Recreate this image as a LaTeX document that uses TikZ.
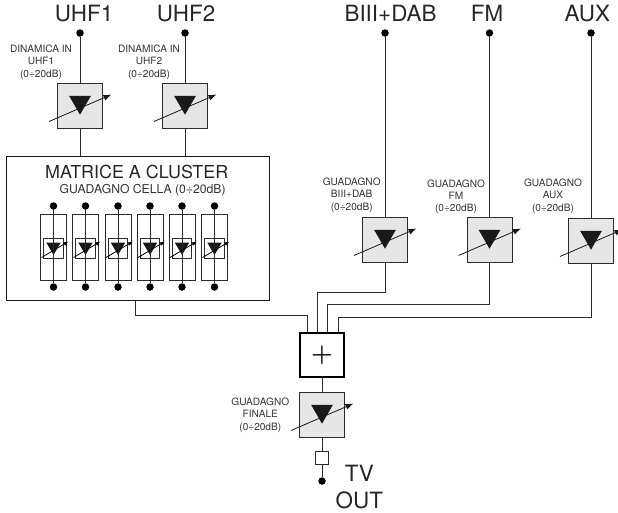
\documentclass[tikz,border=0pt]{standalone}
\usepackage{xcolor}
\usepackage{fontspec}
\usepackage{tikz}
\usetikzlibrary{shapes.geometric,arrows.meta}
\setmainfont{TeX Gyre Heros}
\definecolor{wirecol}{HTML}{2B2B2B}
\definecolor{ampfill}{HTML}{E6E6E6}
\definecolor{textcol}{HTML}{333333}
\tikzset{
  wire/.style={draw=wirecol,line width=0.9pt},
  jack/.style={circle,fill=black,inner sep=0pt,minimum size=7.5pt},
  ampbox/.style={draw=wirecol,fill=ampfill,line width=1pt,inner sep=0pt,minimum size=45pt},
  amptri/.style={regular polygon,regular polygon sides=3,shape border rotate=180,fill=black!90,inner sep=0pt,minimum size=25pt},
  tune/.style={draw=black!90,line width=0.8pt,-{Latex[length=8pt,width=6pt]}},
  cellbox/.style={draw=wirecol,line width=0.9pt,inner sep=0pt,minimum width=26pt,minimum height=66pt},
  cellamp/.style={draw=wirecol,line width=0.9pt,inner sep=0pt,minimum size=19.5pt},
  celltri/.style={regular polygon,regular polygon sides=3,shape border rotate=180,fill=black!90,inner sep=0pt,minimum size=16.5pt},
  celltune/.style={draw=black,line width=0.8pt,-{Latex[length=5pt,width=4pt]}},
  biglabel/.style={text=black!85,inner sep=0pt,align=center,font=\fontsize{22.4}{26.7}\selectfont},
  smalllabel/.style={text=textcol,inner sep=0pt,align=center,font=\fontsize{10.1}{12.3}\selectfont},
}
\begin{document}
\begin{tikzpicture}[x=1pt,y=1pt,yscale=-1]
\useasboundingbox (0,0) rectangle (618,512);

%Input jacks
\node [jack] (jacka) at (80,33) {};
\node [jack] (jackb) at (185,33) {};
\node [jack] (jackc) at (385,33) {};
\node [jack] (jackd) at (489.5,33) {};
\node [jack] (jacke) at (591,33) {};

%Amplifiers
\node [ampbox] (ampa) at (80,105.5) {};
\node [ampbox] (ampb) at (185,105.5) {};
\node [ampbox] (ampc) at (385,239.5) {};
\node [ampbox] (ampd) at (489.5,239.5) {};
\node [ampbox] (ampe) at (591,240.5) {};
\node [ampbox] (ampf) at (322,414.5) {};
\node [amptri] (tria) at (80,102.2) {};
\node [amptri] (trib) at (185,102.2) {};
\node [amptri] (tric) at (385,236.2) {};
\node [amptri] (trid) at (489.5,236.2) {};
\node [amptri] (trie) at (591,237.2) {};
\node [amptri] (trif) at (322,411.2) {};
\draw [tune] ([shift={(-31,16)}]ampa.center) -- ([shift={(31.5,-11)}]ampa.center);
\draw [tune] ([shift={(-31,16)}]ampb.center) -- ([shift={(31.5,-11)}]ampb.center);
\draw [tune] ([shift={(-31,16)}]ampc.center) -- ([shift={(31.5,-11)}]ampc.center);
\draw [tune] ([shift={(-31,16)}]ampd.center) -- ([shift={(31.5,-11)}]ampd.center);
\draw [tune] ([shift={(-31,16)}]ampe.center) -- ([shift={(31.5,-11)}]ampe.center);
\draw [tune] ([shift={(-31,16)}]ampf.center) -- ([shift={(31.5,-11)}]ampf.center);

%Cluster matrix
\node [draw=black!90,line width=1pt,inner sep=0pt,minimum width=263pt,minimum height=144pt] (cluster) at (137.5,228) {};

%Cells
\node [cellbox] (cella) at (53.5,247) {};
\node [cellbox] (cellb) at (85.5,247) {};
\node [cellbox] (cellc) at (118,247) {};
\node [cellbox] (celld) at (150,247) {};
\node [cellbox] (celle) at (182,247) {};
\node [cellbox] (cellf) at (214.5,247) {};
\node [cellamp] (inna) at (53.5,248.5) {};
\node [cellamp] (innb) at (85.5,248.5) {};
\node [cellamp] (innc) at (118,248.5) {};
\node [cellamp] (innd) at (150,248.5) {};
\node [cellamp] (inne) at (182,248.5) {};
\node [cellamp] (innf) at (214.5,248.5) {};
\node [celltri] (tcella) at (53.5,246.8) {};
\node [celltri] (tcellb) at (85.5,246.8) {};
\node [celltri] (tcellc) at (118,246.8) {};
\node [celltri] (tcelld) at (150,246.8) {};
\node [celltri] (tcelle) at (182,246.8) {};
\node [celltri] (tcellf) at (214.5,246.8) {};
\node [jack] (topa) at (53.5,206) {};
\node [jack] (topb) at (85.5,206) {};
\node [jack] (topc) at (118,206) {};
\node [jack] (topd) at (150,206) {};
\node [jack] (tope) at (182,206) {};
\node [jack] (topf) at (214.5,206) {};
\node [jack] (bota) at (53.5,287) {};
\node [jack] (botb) at (85.5,287) {};
\node [jack] (botc) at (118,287) {};
\node [jack] (botd) at (150,287) {};
\node [jack] (bote) at (182,287) {};
\node [jack] (botf) at (214.5,287) {};
\draw [wire] (topa) -- (bota);
\draw [wire] (topb) -- (botb);
\draw [wire] (topc) -- (botc);
\draw [wire] (topd) -- (botd);
\draw [wire] (tope) -- (bote);
\draw [wire] (topf) -- (botf);
\draw [celltune] ([shift={(-12,9)}]inna.center) -- ([shift={(15,-7)}]inna.center);
\draw [celltune] ([shift={(-12,9)}]innb.center) -- ([shift={(15,-7)}]innb.center);
\draw [celltune] ([shift={(-12,9)}]innc.center) -- ([shift={(15,-7)}]innc.center);
\draw [celltune] ([shift={(-12,9)}]innd.center) -- ([shift={(15,-7)}]innd.center);
\draw [celltune] ([shift={(-12,9)}]inne.center) -- ([shift={(15,-7)}]inne.center);
\draw [celltune] ([shift={(-12,9)}]innf.center) -- ([shift={(15,-7)}]innf.center);

%Adder and output
\node [draw=black,line width=2.8pt,inner sep=0pt,minimum size=44pt,font=\fontsize{32}{32}\selectfont\boldmath] (adder) at (322,355) {$+$};
\node [draw=wirecol,line width=1pt,inner sep=0pt,minimum size=13pt] (outbox) at (322,457.5) {};
\node [jack] (jackout) at (322,481) {};
\coordinate (cluout) at (135,300);
\coordinate (adda) at (307,332);
\coordinate (addb) at (317.5,332);
\coordinate (addc) at (327.5,332);
\coordinate (addd) at (338,332);

%Straight Lines
\draw [wire] (jacka) -- (ampa);
\draw [wire] (jackb) -- (ampb);
\draw [wire] (jackc) -- (ampc);
\draw [wire] (jackd) -- (ampd);
\draw [wire] (jacke) -- (ampe);
\draw [wire] (ampa.south) -- (ampa.south |- cluster.north);
\draw [wire] (ampb.south) -- (ampb.south |- cluster.north);
\draw [wire] (cluout) -- ++(0,15) -| (adda);
\draw [wire] (ampc.south) -- ++(0,29.5) -| (addb);
\draw [wire] (ampd.south) -- ++(0,42) -| (addc);
\draw [wire] (ampe.south) -- ++(0,53.5) -| (addd);
\draw [wire] (adder) -- (ampf);
\draw [wire] (ampf) -- (outbox);
\draw [wire] (outbox) -- (jackout);

% Text Node
\node [biglabel] (lbla) at (84,13.5) {UHF1};
\node [biglabel] (lblb) at (186,13.5) {UHF2};
\node [biglabel] (lblc) at (390.5,13.5) {BIII+DAB};
\node [biglabel] (lbld) at (487,13.5) {FM};
\node [biglabel] (lble) at (587.3,13.5) {AUX};
\node [biglabel] (lbltv) at (359.3,487) {TV\\OUT};
\node [biglabel,font=\fontsize{17.9}{20}\selectfont] (lblclu) at (136.7,171.7) {MATRICE A CLUSTER};
\node [smalllabel,font=\fontsize{12.2}{14}\selectfont] (lblcell) at (142.7,190) {GUADAGNO CELLA (0÷20dB)};
\node [smalllabel] (gaina) at (41,62) {DINAMICA IN\\UHF1\\(0÷20dB)};
\node [smalllabel] (gainb) at (149,62) {DINAMICA IN\\UHF2\\(0÷20dB)};
\node [smalllabel] (gainc) at (351.7,195) {GUADAGNO\\BIII+DAB\\(0÷20dB)};
\node [smalllabel] (gaind) at (456,196.7) {GUADAGNO\\FM\\(0÷20dB)};
\node [smalllabel] (gaine) at (553,196) {GUADAGNO\\AUX\\(0÷20dB)};
\node [smalllabel] (gainf) at (260.3,415) {GUADAGNO\\FINALE\\(0÷20dB)};
\end{tikzpicture}
\end{document}
